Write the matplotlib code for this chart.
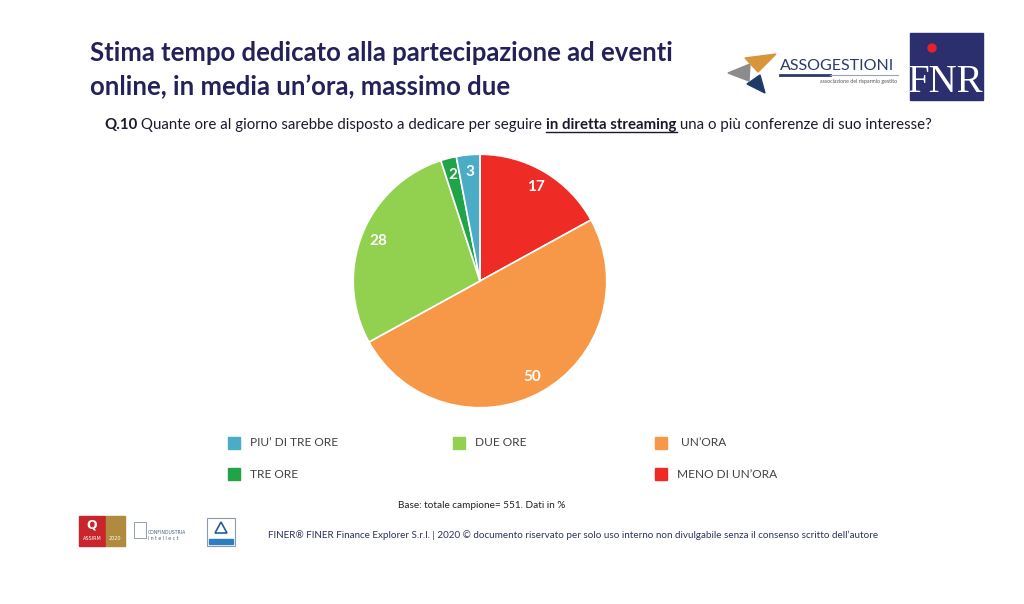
"""
Pie chart: ore al giorno dedicate alle conferenze in diretta streaming (Q.10)
"""
import matplotlib
matplotlib.use("Agg")
import matplotlib.pyplot as plt
from matplotlib.patches import Rectangle, Polygon, Ellipse

# data (% of respondents), clockwise from 12 o'clock
labels = ["MENO DI UN\u2019ORA", "UN\u2019ORA", "DUE ORE", "TRE ORE", "PIU\u2019 DI TRE ORE"]
values = [17, 50, 28, 2, 3]
colors = ["#EE2B24", "#F79748", "#92D050", "#21A348", "#4BACC6"]

# legend layout order (as in the slide)
legend_order = ["PIU\u2019 DI TRE ORE", "DUE ORE", "UN\u2019ORA", "TRE ORE", "MENO DI UN\u2019ORA"]

title = "Stima tempo dedicato alla partecipazione ad eventi\nonline, in media un\u2019ora, massimo due"
base_note = "Base: totale campione= 551. Dati in %"
footer = ("FINER\u00ae FINER Finance Explorer S.r.l. | 2020 \u00a9 documento riservato per solo uso "
          "interno non divulgabile senza il consenso scritto dell\u2019autore")

W, H = 1024, 604
NAVY = "#24215A"
FONT = ["Lato", "DejaVu Sans"]

fig = plt.figure(figsize=(W / 100, H / 100), dpi=100)
fig.patch.set_facecolor("white")


def fx(x):
    return x / W


def fy(y):
    return 1 - y / H


# title
fig.text(fx(90), fy(70), title, fontsize=18.5, fontweight="bold", color=NAVY,
         family=FONT, va="center", linespacing=1.45)

# question line built from pieces
renderer = fig.canvas.get_renderer()
pieces = [("Q.10", "bold", False), (" Quante ore al giorno sarebbe disposto a dedicare per seguire ", "normal", False),
          ("in diretta streaming", "bold", True), (" una o pi\u00f9 conferenze di suo interesse?", "normal", False)]
x = fx(104)
for txt, wt, under in pieces:
    t = fig.text(x, fy(129), txt, fontsize=10.85, fontweight=wt, color="#1a1a2e",
                 family=FONT, va="baseline")
    bb = t.get_window_extent(renderer)
    if under:
        fig.add_artist(plt.Line2D([bb.x0 / W, bb.x1 / W], [fy(132), fy(132)],
                                  color="#1a1a2e", lw=1.0))
    x = bb.x1 / W

# pie
cx, cy, r = 480, 281, 128
ax = fig.add_axes([fx(cx - r), fy(cy + r), 2 * r / W, 2 * r / H])
wedges, _, autotexts = ax.pie(values, colors=colors, startangle=90, counterclock=False,
                              autopct=lambda p: f"{p:.0f}", pctdistance=0.86,
                              wedgeprops=dict(edgecolor="white", linewidth=1.2))
for t in autotexts:
    t.set_color("white")
    t.set_fontweight("bold")
    t.set_fontsize(11)
    t.set_family(FONT)
ax.set_aspect("equal")
ax.set_xlim(-1.01, 1.01)
ax.set_ylim(-1.01, 1.01)
ax.axis("off")

# legend (manual grid like the slide)
col_x = [228, 453, 655]
row_y = [443, 474]
slots = [(0, 0), (1, 0), (2, 0), (0, 1), (2, 1)]
color_of = dict(zip(labels, colors))
for name, (ci, ri) in zip(legend_order, slots):
    x0, y0 = col_x[ci], row_y[ri]
    fig.add_artist(Rectangle((fx(x0), fy(y0 + 6)), 12 / W, 12 / H, color=color_of[name],
                             transform=fig.transFigure))
    fig.text(fx(x0 + 22 + (4 if name == "UN\u2019ORA" else 0)), fy(y0), name, fontsize=8.6,
             color="#404040", family=FONT, va="center")

# notes
fig.text(fx(482), fy(505), base_note, fontsize=7.2, color="#222222", family=FONT,
         ha="center", va="center")
fig.text(fx(268), fy(535), footer, fontsize=7.15, color="#2E3260", family=FONT, va="center")

# --- logos (simplified) ---
# Assogestioni star: three triangular arms
arms = [[(728, 73), (750, 64), (749, 81)],    # grey, pointing left
        [(776, 54), (745, 58), (758, 72)],    # orange, pointing up-right
        [(765, 93), (747, 84), (760, 75)]]    # navy, pointing down
star_cols = ["#8C8C8C", "#D8953A", "#1F3A64"]
for pts, c in zip(arms, star_cols):
    fig.add_artist(Polygon([(fx(px), fy(py)) for px, py in pts], closed=True, color=c,
                           transform=fig.transFigure))
fig.text(fx(780), fy(66), "ASSOGESTIONI", fontsize=11.5, color="#2B3A6B", family=FONT,
         va="center")
fig.add_artist(plt.Line2D([fx(780), fx(830)], [fy(75), fy(75)], color="#2B3A6B", lw=2))
fig.add_artist(plt.Line2D([fx(830), fx(898)], [fy(75), fy(75)], color="#9AA3BC", lw=0.8))
fig.text(fx(897), fy(82), "associazione del risparmio gestito", fontsize=3.8,
         color="#555555", family=FONT, ha="right", va="center")

# FNR box
box = Rectangle((fx(910), fy(100)), 73 / W, 67 / H, color="#2B2F6E",
                transform=fig.transFigure)
fig.add_artist(box)
fig.add_artist(Ellipse((fx(932), fy(48)), 8 / W, 8 / H, color="#E8202A",
                       transform=fig.transFigure))
fnr = fig.text(fx(946), fy(82), "FNR", fontsize=28, color="white", family="Liberation Serif",
               ha="center", va="center")
fnr.set_clip_path(box)

# bottom-left badges
fig.add_artist(Rectangle((fx(79), fy(546)), 26 / W, 30 / H, color="#C8262C",
                         transform=fig.transFigure))
fig.add_artist(Rectangle((fx(106), fy(546)), 19 / W, 30 / H, color="#B08A3E",
                         transform=fig.transFigure))
fig.text(fx(92), fy(538), "ASSIRM", fontsize=3.5, color="white", ha="center", va="center")
fig.text(fx(115), fy(538), "2020", fontsize=3.5, color="white", ha="center", va="center")
fig.text(fx(92), fy(525), "Q", fontsize=9, color="white", fontweight="bold",
         ha="center", va="center")
fig.text(fx(148), fy(532), "CONFINDUSTRIA", fontsize=3.3, color="#4A5C8A", va="center")
fig.text(fx(148), fy(539), "i n t e l l e c t", fontsize=3.3, color="#4A5C8A", va="center")
fig.add_artist(Rectangle((fx(134), fy(538)), 12 / W, 16 / H, fill=False, ec="#8090B0",
                         lw=0.6, transform=fig.transFigure))
fig.add_artist(Rectangle((fx(207), fy(546)), 28 / W, 28 / H, fc="white", ec="#8A9BB0",
                         lw=0.8, transform=fig.transFigure))
fig.add_artist(Rectangle((fx(209), fy(544)), 24 / W, 5 / H, color="#2F7FC0",
                         transform=fig.transFigure))
fig.add_artist(Polygon([(fx(215), fy(533)), (fx(221), fy(522)), (fx(227), fy(533))],
                       closed=True, fill=False, ec="#1F5FA0", lw=1.2, transform=fig.transFigure))

fig.savefig("out.png", dpi=100)
plt.close(fig)
